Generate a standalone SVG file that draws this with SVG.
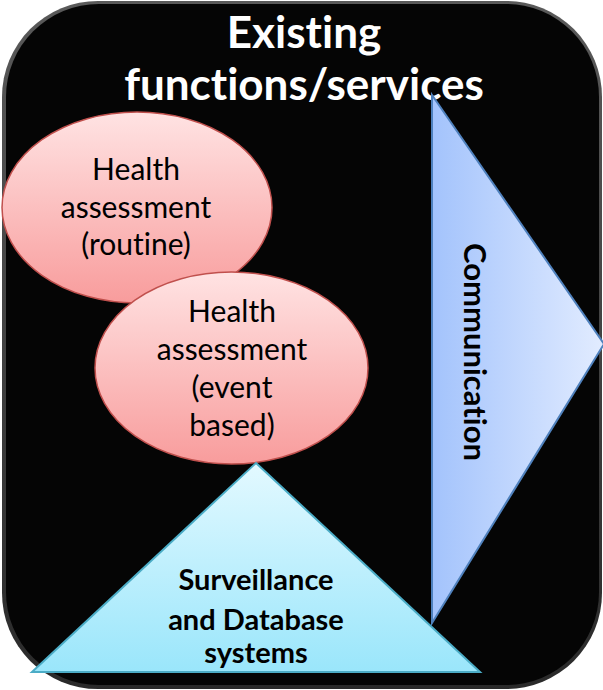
<svg xmlns="http://www.w3.org/2000/svg" width="603" height="690" viewBox="0 0 603 690">
  <defs>
    <linearGradient id="pink" x1="0" y1="0" x2="0" y2="1">
      <stop offset="0" stop-color="#ffe3e3"/>
      <stop offset="1" stop-color="#f89c9c"/>
    </linearGradient>
    <linearGradient id="blue" x1="0" y1="0" x2="1" y2="0">
      <stop offset="0" stop-color="#a3c3fc"/>
      <stop offset="1" stop-color="#e2ecff"/>
    </linearGradient>
    <linearGradient id="cyan" x1="0" y1="0" x2="0" y2="1">
      <stop offset="0" stop-color="#e3f9ff"/>
      <stop offset="1" stop-color="#9ae6fb"/>
    </linearGradient>
    <linearGradient id="edge" x1="0" y1="0" x2="0" y2="1">
      <stop offset="0" stop-color="#5a5a5a"/>
      <stop offset="1" stop-color="#2a2a2a"/>
    </linearGradient>
  </defs>
  <style>
    text { font-variant-ligatures: none; font-feature-settings: "liga" 0, "clig" 0, "dlig" 0; font-family: Lato, "Open Sans", "Liberation Sans", sans-serif; }
    .ell { fill: url(#pink); stroke: #c0504d; stroke-width: 1.5; }
    .etxt { font-size: 30px; fill: #000; text-anchor: middle; }
    .btxt { font-weight: bold; fill: #000; text-anchor: middle; }
    .title { font-weight: bold; font-size: 44px; fill: #fff; text-anchor: middle; }
  </style>
  <rect width="603" height="690" fill="#ffffff"/>
  <g id="background">
    <rect x="2" y="1" width="600" height="688" rx="96" ry="96" fill="url(#edge)"/>
    <rect x="6" y="4" width="593" height="681" rx="93" ry="93" fill="#050505"/>
    <text class="title" x="304" y="48">Existing</text>
    <text class="title" x="304" y="100">functions/services</text>
  </g>
  <g id="connectors"></g>
  <g id="health-routine">
    <ellipse class="ell" cx="137" cy="207.5" rx="135" ry="95.5"/>
    <text class="etxt" x="136" y="180">Health</text>
    <text class="etxt" x="136" y="218">assessment</text>
    <text class="etxt" x="136" y="255">(routine)</text>
  </g>
  <g id="health-event">
    <ellipse class="ell" cx="231.5" cy="368" rx="136.5" ry="96"/>
    <text class="etxt" x="232" y="322">Health</text>
    <text class="etxt" x="232" y="360">assessment</text>
    <text class="etxt" x="232" y="398">(event</text>
    <text class="etxt" x="232" y="436">based)</text>
  </g>
  <g id="surveillance">
    <polygon points="256,463 480,672 32,672" fill="url(#cyan)" stroke="#4bacc6" stroke-width="2"/>
    <text class="btxt" x="256" y="590" font-size="29">Surveillance</text>
    <text class="btxt" x="256" y="630" font-size="29">and Database</text>
    <text class="btxt" x="256" y="663" font-size="29">systems</text>
  </g>
  <g id="communication">
    <polygon points="432,95 604,344 432,623" fill="url(#blue)" stroke="#4f81bd" stroke-width="2"/>
    <text class="btxt" font-size="31" transform="translate(464,352) rotate(90)">Communication</text>
  </g>
</svg>
